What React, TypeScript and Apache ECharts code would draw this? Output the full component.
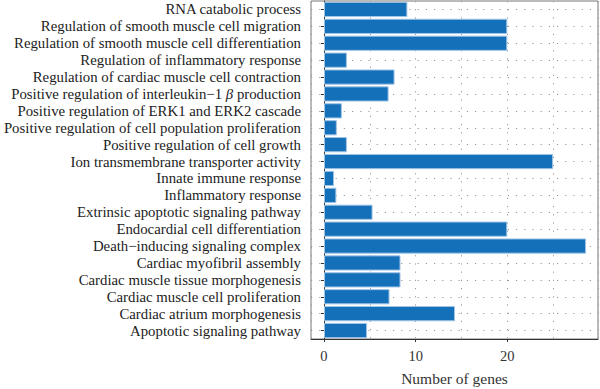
import React, { useEffect, useRef } from "react";
import * as echarts from "echarts";

const categories: string[] = [
  "RNA catabolic process",
  "Regulation of smooth muscle cell migration",
  "Regulation of smooth muscle cell differentiation",
  "Regulation of inflammatory response",
  "Regulation of cardiac muscle cell contraction",
  "Positive regulation of interleukin−1 β production",
  "Positive regulation of ERK1 and ERK2 cascade",
  "Positive regulation of cell population proliferation",
  "Positive regulation of cell growth",
  "Ion transmembrane transporter activity",
  "Innate immune response",
  "Inflammatory response",
  "Extrinsic apoptotic signaling pathway",
  "Endocardial cell differentiation",
  "Death−inducing signaling complex",
  "Cardiac myofibril assembly",
  "Cardiac muscle tissue morphogenesis",
  "Cardiac muscle cell proliferation",
  "Cardiac atrium morphogenesis",
  "Apoptotic signaling pathway",
];

const geneCounts: number[] = [
  9.1, 20, 20, 2.5, 7.7, 7.05, 1.95, 1.4, 2.5, 25, 1.1, 1.35, 5.3, 20, 28.6,
  8.35, 8.35, 7.15, 14.3, 4.7,
];

const xMin = -1.418;
const xMax = 29.9;
const xTitle = "Number of genes";

const SERIF = "'Liberation Serif', 'DejaVu Serif', serif";
const dotted = { color: "#9a9a9a", width: 1, type: [1.2, 7] as number[] };
const LABEL_SIZE = 14.8;

export default function App() {
  const ref = useRef<HTMLDivElement>(null);
  useEffect(() => {
    if (!ref.current) return;
    const chart = echarts.init(ref.current, undefined, { renderer: "svg" });
    chart.setOption({
      animation: false,
      grid: {
        left: 311,
        right: 2,
        top: 1,
        bottom: 50,
        show: true,
        borderColor: "#777",
        borderWidth: 1,
        containLabel: false,
        outerBoundsMode: "none",
      },
      xAxis: [
        {
          type: "value",
          min: xMin,
          max: xMax,
          splitNumber: 6,
          position: "bottom",
          axisLine: { show: false },
          axisTick: { show: false },
          axisLabel: { show: false },
          splitLine: { show: true, lineStyle: dotted },
        },
        {
          type: "value",
          min: xMin,
          max: xMax,
          splitNumber: 3,
          position: "bottom",
          axisLine: { show: true, lineStyle: { color: "#333", width: 1 } },
          axisTick: { show: true, length: 3, lineStyle: { color: "#333" } },
          axisLabel: {
            show: true,
            margin: 9,
            fontSize: 14.5,
            fontFamily: SERIF,
            color: "#333",
            showMinLabel: false,
            showMaxLabel: false,
            formatter: (v: number) => (Math.abs(v % 10) < 1e-9 ? String(v) : ""),
          },
          splitLine: { show: false },
          name: xTitle,
          nameLocation: "middle",
          nameGap: 31,
          nameTextStyle: { fontSize: 15.5, fontFamily: SERIF, color: "#333" },
        },
      ],
      yAxis: {
        type: "category",
        inverse: true,
        data: categories,
        axisLine: { show: true, lineStyle: { color: "#333", width: 1 } },
        axisTick: { show: true, alignWithLabel: true, length: 3, lineStyle: { color: "#333" } },
        splitLine: { show: false },
        axisLabel: {
          interval: 0,
          margin: 10,
          fontSize: LABEL_SIZE,
          fontFamily: SERIF,
          color: "#222",
          formatter: (v: string) => {
            if (v.includes("β")) {
              const [a, b] = v.split("β");
              return `{n|${a}}{i|β}{n|${b}}`;
            }
            return `{n|${v}}`;
          },
          rich: {
            n: { fontSize: LABEL_SIZE, fontFamily: SERIF, color: "#222" },
            i: { fontSize: LABEL_SIZE, fontFamily: SERIF, color: "#222", fontStyle: "italic" },
          },
        },
      },
      series: [
        {
          type: "line",
          data: [],
          xAxisIndex: 0,
          z: 1,
          silent: true,
          markLine: {
            silent: true,
            z: 1,
            symbol: ["none", "none"],
            label: { show: false },
            lineStyle: dotted,
            data: categories.map((c) => ({ yAxis: c })),
          },
        },
        {
          type: "bar",
          data: geneCounts,
          xAxisIndex: 0,
          z: 3,
          barCategoryGap: "10%",
          itemStyle: { color: "#1470b9", borderColor: "#9fc4e6", borderWidth: 1 },
        },
      ],
    });
    return () => chart.dispose();
  }, []);
  return (
    <div
      ref={ref}
      style={{ position: "absolute", left: 0, top: 0, width: 600, height: 389 }}
    />
  );
}
